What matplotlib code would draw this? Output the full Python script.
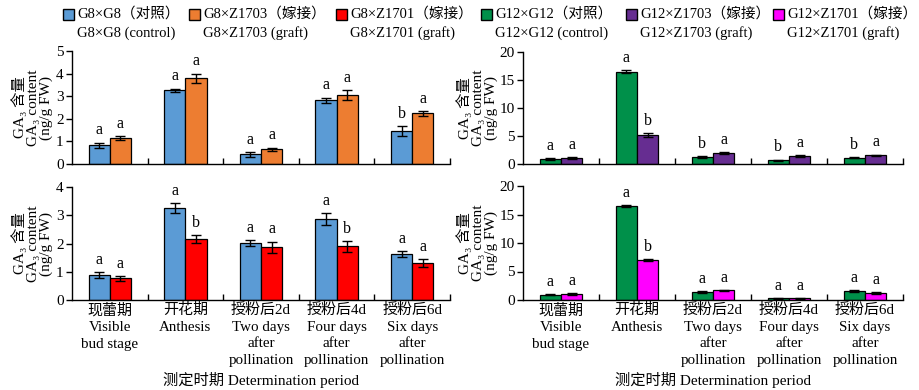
import matplotlib
matplotlib.use("Agg")
import matplotlib.pyplot as plt
from matplotlib.patches import Rectangle
import numpy as np

FAM = ['Liberation Serif', 'Noto Sans CJK SC', 'DejaVu Serif']
plt.rcParams['font.family'] = FAM

categories = ["现蕾期\nVisible\nbud stage", "开花期\nAnthesis",
              "授粉后2d\nTwo days\nafter\npollination",
              "授粉后4d\nFour days\nafter\npollination",
              "授粉后6d\nSix days\nafter\npollination"]

# Panel A (top-left): G8xG8 vs G8xZ1703
g8_ctrl_a = [0.83, 3.26, 0.43, 2.82, 1.46]
g8_ctrl_a_err = [0.12, 0.08, 0.10, 0.12, 0.20]
g8_z1703 = [1.14, 3.79, 0.66, 3.04, 2.24]
g8_z1703_err = [0.10, 0.21, 0.07, 0.22, 0.10]
letters_a = [("a", "a"), ("a", "a"), ("a", "a"), ("a", "a"), ("b", "a")]

# Panel B (top-right): G12xG12 vs G12xZ1703
g12_ctrl_b = [0.89, 16.5, 1.25, 0.65, 1.13]
g12_ctrl_b_err = [0.15, 0.30, 0.12, 0.15, 0.12]
g12_z1703 = [1.07, 5.1, 1.9, 1.37, 1.54]
g12_z1703_err = [0.15, 0.35, 0.20, 0.20, 0.15]
letters_b = [("a", "a"), ("a", "b"), ("b", "a"), ("b", "a"), ("b", "a")]

# Panel C (bottom-left): G8xG8 vs G8xZ1701
g8_ctrl_c = [0.88, 3.25, 2.01, 2.86, 1.62]
g8_ctrl_c_err = [0.10, 0.17, 0.10, 0.21, 0.10]
g8_z1701 = [0.77, 2.15, 1.87, 1.90, 1.30]
g8_z1701_err = [0.09, 0.14, 0.20, 0.20, 0.14]
letters_c = [("a", "a"), ("a", "b"), ("a", "a"), ("a", "b"), ("a", "a")]

# Panel D (bottom-right): G12xG12 vs G12xZ1701
g12_ctrl_d = [0.94, 16.5, 1.40, 0.30, 1.52]
g12_ctrl_d_err = [0.10, 0.15, 0.15, 0.10, 0.15]
g12_z1701 = [1.05, 7.0, 1.70, 0.30, 1.23]
g12_z1701_err = [0.15, 0.15, 0.10, 0.10, 0.15]
letters_d = [("a", "a"), ("a", "b"), ("a", "a"), ("a", "a"), ("a", "a")]

legend_labels = [
    ("G8×G8（对照）", "G8×G8 (control)"),
    ("G8×Z1703（嫁接）", "G8×Z1703 (graft)"),
    ("G8×Z1701（嫁接）", "G8×Z1701 (graft)"),
    ("G12×G12（对照）", "G12×G12 (control)"),
    ("G12×Z1703（嫁接）", "G12×Z1703 (graft)"),
    ("G12×Z1701（嫁接）", "G12×Z1701 (graft)"),
]
colors = ["#5B9BD5", "#ED7D31", "#FF0000", "#00904A", "#662D91", "#FF00FF"]

W, H = 920, 390
fig = plt.figure(figsize=(9.2, 3.9), dpi=100)

def fx(px):
    return px / W

def fy(py):
    return 1 - py / H

BW = 0.28

def panel(rect, s1, e1, s2, e2, c1, c2, letters, ymax, ystep, bottom, ylab_x):
    ax = fig.add_axes(rect)
    x = np.arange(len(s1))
    ax.bar(x - BW / 2, s1, BW, color=c1, edgecolor="black", linewidth=0.9, zorder=2)
    ax.bar(x + BW / 2, s2, BW, color=c2, edgecolor="black", linewidth=0.9, zorder=2)
    for xs, s, e in ((x - BW / 2, s1, e1), (x + BW / 2, s2, e2)):
        ax.errorbar(xs, s, yerr=e, fmt="none", ecolor="black", elinewidth=1,
                    capsize=3.5, capthick=1, zorder=3)
    for i in range(len(s1)):
        for j, (xs, s, e) in enumerate(((x - BW / 2, s1, e1), (x + BW / 2, s2, e2))):
            ax.annotate(letters[i][j], (xs[i], s[i] + e[i]), xytext=(0, 3),
                        textcoords="offset points", ha="center", va="bottom",
                        fontsize=11.5)
    ax.set_xlim(-0.5, 4.5)
    ax.set_ylim(0, ymax)
    ax.set_yticks(np.arange(0, ymax + 0.001, ystep))
    ax.spines["top"].set_visible(False)
    ax.spines["right"].set_visible(False)
    ax.tick_params(axis="y", direction="out", length=4, width=1, labelsize=11, pad=2)
    ax.set_xticks(x)
    ax.set_xticks(np.arange(0.5, 5, 1), minor=True)
    ax.tick_params(axis="x", which="major", length=0, labelsize=10.8, pad=2)
    ax.tick_params(axis="x", which="minor", direction="in", length=4, width=1)
    for sp in ("left", "bottom"):
        ax.spines[sp].set_linewidth(1)
    if bottom:
        ax.set_xticklabels(categories)
        for t in ax.get_xticklabels():
            t.set_linespacing(1.38)
        cx = rect[0] + rect[2] / 2
        fig.text(cx, fy(380), "测定时期 Determination period", fontsize=11,
                 ha="center", va="center")
    else:
        ax.set_xticklabels([])
    ax.set_ylabel("GA₃ 含量\nGA₃ content\n(ng/g FW)", fontsize=11, linespacing=1.0)
    ax.yaxis.set_label_coords(ylab_x, 0.5)
    return ax

panel([fx(72), fy(164), fx(378), (164 - 51) / H],
      g8_ctrl_a, g8_ctrl_a_err, g8_z1703, g8_z1703_err,
      colors[0], colors[1], letters_a, 5, 1, False, -0.05)
panel([fx(523), fy(164), fx(380), (164 - 52) / H],
      g12_ctrl_b, g12_ctrl_b_err, g12_z1703, g12_z1703_err,
      colors[3], colors[4], letters_b, 20, 5, False, -0.065)
panel([fx(72), fy(300), fx(378), (300 - 187) / H],
      g8_ctrl_c, g8_ctrl_c_err, g8_z1701, g8_z1701_err,
      colors[0], colors[2], letters_c, 4, 1, True, -0.05)
panel([fx(523), fy(300), fx(380), (300 - 186) / H],
      g12_ctrl_d, g12_ctrl_d_err, g12_z1701, g12_z1701_err,
      colors[3], colors[5], letters_d, 20, 5, True, -0.065)

# Legend drawn in figure coordinates
sq_x = [63, 189, 336, 481, 626, 773]
for (l1, l2), c, sx in zip(legend_labels, colors, sq_x):
    fig.add_artist(Rectangle((fx(sx), fy(20)), fx(11), 11 / H, facecolor=c,
                             edgecolor="black", linewidth=1,
                             transform=fig.transFigure))
    fig.text(fx(sx + 14), fy(14), l1, fontsize=10.5, va="center", ha="left")
    fig.text(fx(sx + 14), fy(33), l2, fontsize=10.5, va="center", ha="left")

fig.savefig("out.png", dpi=100)
